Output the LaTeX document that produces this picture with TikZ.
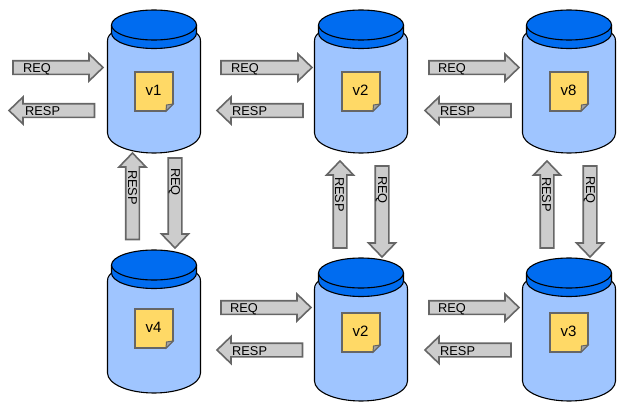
\documentclass[tikz,border=0pt]{standalone}
\usepackage{fontspec}
\setmainfont{Liberation Sans}
\definecolor{jarbody}{HTML}{9FC5FF}
\definecolor{jarlid}{HTML}{006CF0}
\definecolor{notefill}{HTML}{FFD966}
\definecolor{edgegrey}{HTML}{666666}
\definecolor{arrowfill}{HTML}{CCCCCC}
\tikzset{
  jarline/.style={draw=black,line width=1.1pt,line join=round},
  notebox/.style={draw=edgegrey,fill=notefill,line width=1.6pt,line join=miter},
  arrowshape/.style={draw=edgegrey,fill=arrowfill,line width=1.6pt,line join=miter},
  lbl/.style={inner sep=0pt,font=\fontsize{12.8pt}{14pt}\selectfont,text=black},
}
% cx, top, note top offset, label, name
\newcommand{\jar}[5]{%
  \begin{scope}[shift={(#1,#2)}]
    \path[jarline,fill=jarbody] (-46.5,32) .. controls (-46.5,27) and (-44,26) .. (-42.5,24)
      -- (42.5,24) .. controls (44,26) and (46.5,27) .. (46.5,32)
      -- (46.5,124) arc[start angle=0,end angle=180,x radius=46.5,y radius=20]
      -- cycle;
    \path[jarline,fill=jarlid] (-42.5,16) -- (-42.5,24) arc[start angle=180,end angle=0,x radius=42.5,y radius=15.5] -- (42.5,16) -- cycle;
    \path[jarline,fill=jarlid] (0,16) ellipse[x radius=42.5,y radius=15];
    \path[notebox] (-19,#3) -- (19,#3) -- (19,#3+32) -- (12,#3+39) -- (-19,#3+39) -- cycle;
    \path[draw=edgegrey,fill=edgegrey!60,line width=1pt] (19,#3+32) -- (12.5,#3+33) -- (12,#3+39) -- cycle;
    \node[lbl,font=\fontsize{15pt}{17pt}\selectfont] (#5) at (-0.5,#3+18) {#4};
  \end{scope}}
% arrow along +x: start x, start y, rotation, length, name
\newcommand{\flowarrow}[5]{%
  \begin{scope}[shift={(#1,#2)},rotate=#3]
    \path[arrowshape] (0,-6.8) -- (#4-14,-6.8) -- (#4-14,-13.5) -- (#4,0) -- (#4-14,13.5) -- (#4-14,6.8) -- (0,6.8) -- cycle;
  \end{scope}
  \coordinate (#5) at (#1,#2);}
\begin{document}
\begin{tikzpicture}[x=1pt,y=-1pt]
\useasboundingbox (0,0) rectangle (633,418);
\jar{154}{9}{63}{v1}{vA}
\jar{361}{9}{63}{v2}{vB}
\jar{569}{9}{63}{v8}{vC}
\jar{154}{249}{60}{v4}{vD}
\jar{361}{257}{56}{v2}{vE}
\jar{569}{257}{56}{v3}{vF}
% horizontal
\flowarrow{13}{67.5}{0}{90}{a1}
\flowarrow{94.5}{110.5}{180}{85.5}{a2}
\flowarrow{221}{67.5}{0}{91}{a3}
\flowarrow{303}{110.5}{180}{86}{a4}
\flowarrow{429}{67.5}{0}{90}{a5}
\flowarrow{511}{110.5}{180}{86}{a6}
\flowarrow{221}{307.5}{0}{90}{a7}
\flowarrow{302.5}{350}{180}{85.5}{a8}
\flowarrow{429}{307.5}{0}{90}{a9}
\flowarrow{511}{350}{180}{86}{a10}
% vertical
\flowarrow{132.5}{239.5}{90}{86.5}{a11}
\flowarrow{175}{158}{-90}{90}{a12}
\flowarrow{340}{248}{90}{87}{a13}
\flowarrow{382}{166}{-90}{91}{a14}
\flowarrow{547}{248}{90}{87}{a15}
\flowarrow{590}{166}{-90}{91}{a16}
% labels
\node[lbl,anchor=west] at (23,69) {REQ};
\node[lbl,anchor=west] at (25,111.5) {RESP};
\node[lbl,anchor=west] at (231,69) {REQ};
\node[lbl,anchor=west] at (232,111.5) {RESP};
\node[lbl,anchor=west] at (438,69) {REQ};
\node[lbl,anchor=west] at (440,111.5) {RESP};
\node[lbl,anchor=west] at (230,309) {REQ};
\node[lbl,anchor=west] at (232,351) {RESP};
\node[lbl,anchor=west] at (438,309) {REQ};
\node[lbl,anchor=west] at (440,351) {RESP};
\node[lbl,rotate=-90,anchor=west] at (132.5,170) {RESP};
\node[lbl,rotate=-90,anchor=west] at (174.5,168) {REQ};
\node[lbl,rotate=-90,anchor=west] at (339.5,177) {RESP};
\node[lbl,rotate=-90,anchor=west] at (381.5,176) {REQ};
\node[lbl,rotate=-90,anchor=west] at (546.5,177) {RESP};
\node[lbl,rotate=-90,anchor=west] at (589.5,176) {REQ};
\end{tikzpicture}
\end{document}
